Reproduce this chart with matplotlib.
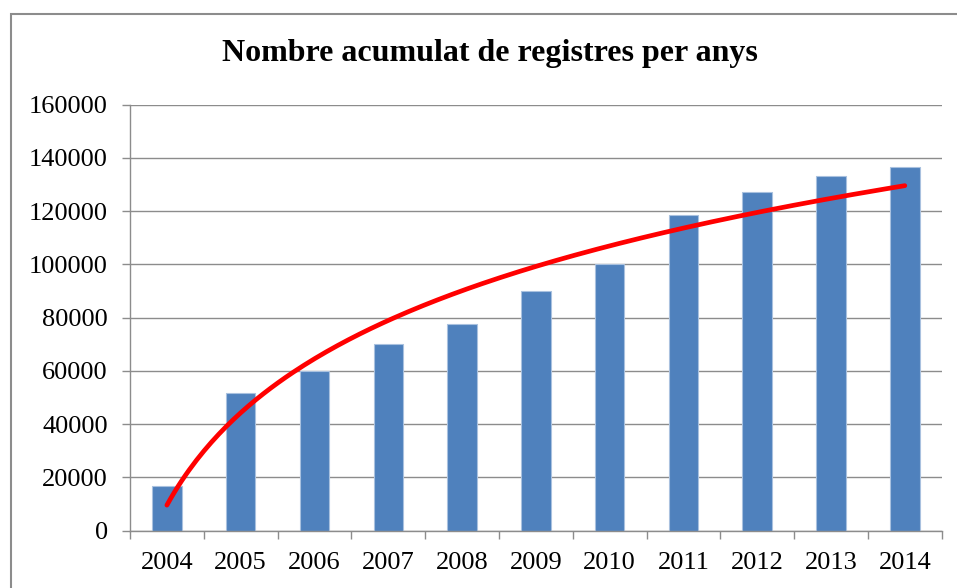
import numpy as np
import matplotlib.pyplot as plt
from matplotlib.patches import Rectangle

# Dades llegides del gràfic
anys = ['2004', '2005', '2006', '2007', '2008', '2009', '2010', '2011', '2012', '2013', '2014']
registres = [16800, 51600, 60000, 70000, 77750, 89900, 100000, 118450, 127300, 133100, 136500]
y_ticks = [0, 20000, 40000, 60000, 80000, 100000, 120000, 140000, 160000]

plt.rcParams['font.family'] = ['Liberation Serif', 'DejaVu Serif']

fig = plt.figure(figsize=(9.57, 5.88), dpi=100)
# marc del gràfic
fig.patches.append(Rectangle((11 / 957, -0.1), 1.2, (588 - 14) / 588 + 0.1,
                             transform=fig.transFigure, fill=False,
                             edgecolor='#8c8c8c', linewidth=1.5))

ax = fig.add_axes([130 / 957, (588 - 530.7) / 588, (941.7 - 130) / 957, 426 / 588])

x = np.arange(len(anys))
ax.bar(x, registres, width=0.4, color='#4f81bd', edgecolor='#a9c1df', linewidth=0.8, zorder=2)

# línia de tendència logarítmica (mínims quadrats)
n = np.arange(1, len(anys) + 1)
a, b = np.polyfit(np.log(n), registres, 1)
xs = np.linspace(1, len(anys), 200)
ax.plot(xs - 1, a * np.log(xs) + b, color='#ff0000', linewidth=3.4, solid_capstyle='round', zorder=3)

ax.set_xlim(-0.5, len(anys) - 0.5)
ax.set_ylim(0, 160000)
ax.set_yticks(y_ticks)
ax.set_yticklabels([str(t) for t in y_ticks])
ax.set_xticks(x)
ax.set_xticklabels(anys)
ax.set_xticks(np.arange(-0.5, len(anys)), minor=True)

ax.grid(axis='y', color='#8c8c8c', linewidth=1, zorder=0)
ax.set_axisbelow(True)
for s in ['top', 'right']:
    ax.spines[s].set_visible(False)
for s in ['left', 'bottom']:
    ax.spines[s].set_color('#8c8c8c')
    ax.spines[s].set_linewidth(1)

ax.tick_params(axis='x', which='major', length=0, pad=15, labelsize=19)
ax.tick_params(axis='x', which='minor', length=6, color='#8c8c8c', width=1)
ax.tick_params(axis='y', length=6, color='#8c8c8c', width=1, pad=10, labelsize=19)

fig.text(490 / 957, 1 - 53 / 588, 'Nombre acumulat de registres per anys',
         ha='center', va='center', fontsize=23, fontweight='bold')

fig.savefig('out.png', dpi=100)
